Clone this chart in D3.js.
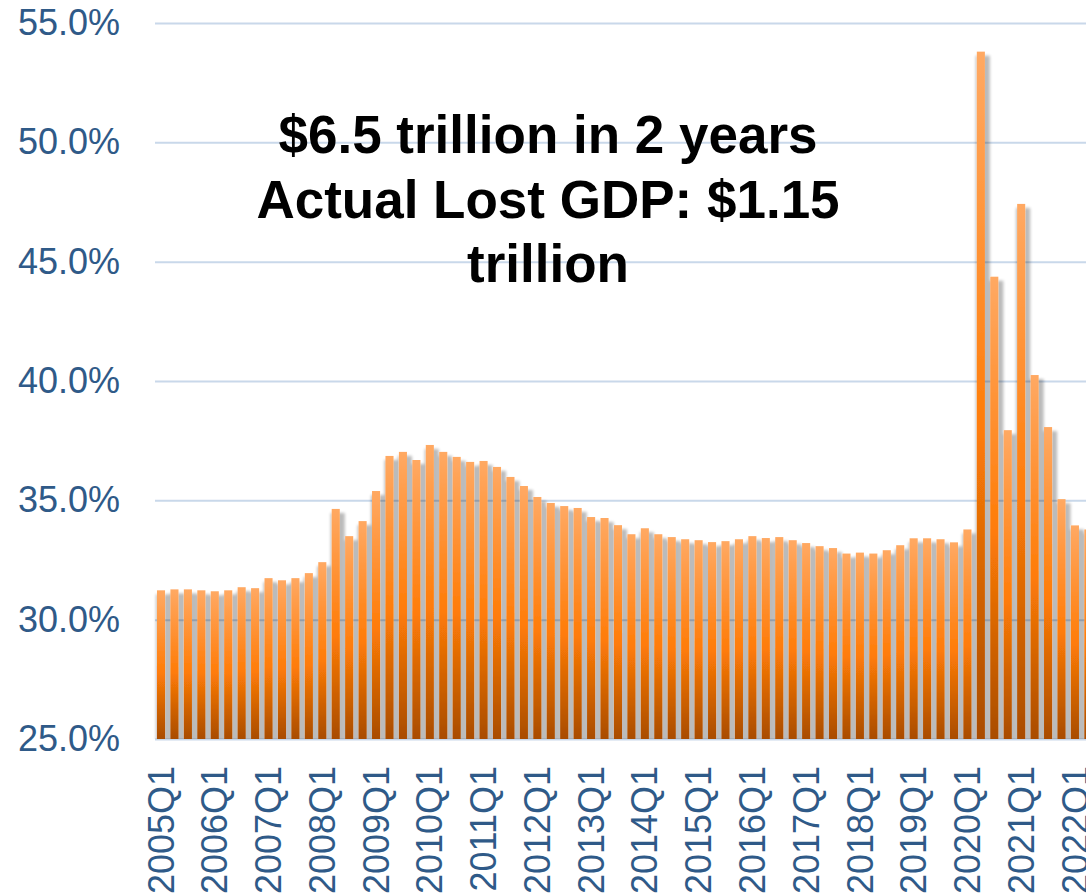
<!DOCTYPE html>
<html>
<head>
<meta charset="utf-8">
<script src="https://cdn.jsdelivr.net/npm/d3@7"></script>
<style>
  body { margin: 0; background: #fff; }
  svg { display: block; }
</style>
</head>
<body>
<div class="chart"></div>
<script>
var svgWidth = 1086;
var svgHeight = 893;

// quarter labels 2005Q1 .. 2022Q2 (last one is cut off at the right edge)
var years = d3.range(2005, 2023);
var quarters = [];
years.forEach(function(yr) {
  [1, 2, 3, 4].forEach(function(q) {
    if (yr < 2022 || q <= 2) quarters.push(yr + "Q" + q);
  });
});

// share of GDP, %
var shares = [
  31.23, 31.27, 31.27, 31.23,
  31.19, 31.23, 31.36, 31.32,
  31.74, 31.65, 31.74, 31.95,
  32.41, 34.64, 33.50, 34.13,
  35.39, 36.86, 37.03, 36.69,
  37.32, 37.03, 36.82, 36.61,
  36.65, 36.40, 35.98, 35.60,
  35.14, 34.89, 34.76, 34.68,
  34.30, 34.26, 33.96, 33.58,
  33.83, 33.58, 33.46, 33.37,
  33.33, 33.25, 33.29, 33.37,
  33.50, 33.42, 33.46, 33.33,
  33.21, 33.08, 33.00, 32.77,
  32.81, 32.77, 32.91, 33.12,
  33.41, 33.41, 33.37, 33.24,
  33.78, 53.80, 44.37, 37.94,
  47.42, 40.25, 38.07, 35.05,
  33.95, 33.78
];

var yTicks = [25, 30, 35, 40, 45, 50, 55];
var xTicks = quarters.filter(function(q) { return q.slice(-2) === "Q1"; });

var noteLines = ["$6.5 trillion in 2 years", "Actual Lost GDP: $1.15", "trillion"];

var data = quarters.map(function(q, i) { return { quarter: q, share: shares[i] }; });

var plotLeft = 155;
var plotTop = 23;
var plotBottom = 739;
var step = 13.44;

var svg = d3.select(".chart")
  .append("svg")
  .attr("width", svgWidth)
  .attr("height", svgHeight);

var defs = svg.append("defs");

var grad = defs.append("linearGradient")
  .attr("id", "barFill")
  .attr("x1", 0).attr("y1", 0)
  .attr("x2", 0).attr("y2", 1);
grad.append("stop").attr("offset", "0%").attr("stop-color", "#ffa963");
grad.append("stop").attr("offset", "55%").attr("stop-color", "#ff7c08");
grad.append("stop").attr("offset", "100%").attr("stop-color", "#a94c00");

// grey shadow under the whole bar group, wide enough to fill the gaps
var shadow = defs.append("filter")
  .attr("id", "barShadow")
  .attr("filterUnits", "userSpaceOnUse")
  .attr("x", 0).attr("y", 0)
  .attr("width", svgWidth).attr("height", svgHeight);
shadow.append("feMorphology")
  .attr("in", "SourceAlpha")
  .attr("operator", "dilate")
  .attr("radius", "3 0")
  .attr("result", "wide");
shadow.append("feOffset")
  .attr("in", "wide")
  .attr("dx", 1.5).attr("dy", 4)
  .attr("result", "moved");
shadow.append("feGaussianBlur")
  .attr("in", "moved")
  .attr("stdDeviation", 1.6)
  .attr("result", "soft");
shadow.append("feComponentTransfer")
  .attr("in", "soft")
  .attr("result", "faint")
  .append("feFuncA")
  .attr("type", "linear")
  .attr("slope", 0.27);
var merge = shadow.append("feMerge");
merge.append("feMergeNode").attr("in", "faint");
merge.append("feMergeNode").attr("in", "SourceGraphic");

// scales
var x = d3.scaleBand()
  .domain(quarters)
  .range([plotLeft - 0.7, plotLeft - 0.7 + step * quarters.length])
  .paddingInner(0.4)
  .paddingOuter(0.2);

var y = d3.scaleLinear()
  .domain([25, 55])
  .range([plotBottom, plotTop]);

// gridlines
svg.append("g")
  .attr("class", "grid")
  .attr("transform", `translate(${plotLeft}, 0)`)
  .call(d3.axisLeft(y).tickValues(yTicks).tickSize(-(svgWidth - plotLeft)).tickFormat(""))
  .call(g => g.select(".domain").remove())
  .call(g => g.selectAll("line")
    .attr("stroke", "#c9d8ea")
    .attr("stroke-width", 2));

// bars
var clip = defs.append("clipPath").attr("id", "plotClip");
clip.append("rect")
  .attr("x", 0).attr("y", 0)
  .attr("width", svgWidth).attr("height", plotBottom);

svg.append("g")
  .attr("clip-path", "url(#plotClip)")
  .append("g")
  .attr("filter", "url(#barShadow)")
  .selectAll("rect")
  .data(data)
  .enter()
  .append("rect")
  .attr("x", d => x(d.quarter))
  .attr("y", d => y(d.share))
  .attr("width", x.bandwidth())
  .attr("height", d => y(25) - y(d.share))
  .attr("fill", "url(#barFill)");

// y axis labels
svg.append("g")
  .attr("transform", `translate(${plotLeft}, 0)`)
  .call(d3.axisLeft(y).tickValues(yTicks).tickSize(0).tickPadding(35)
    .tickFormat(d => d.toFixed(1) + "%"))
  .call(g => g.select(".domain").remove())
  .call(g => g.selectAll("text")
    .attr("fill", "#2f5a88")
    .style("font-family", "'Liberation Sans', Arial, sans-serif")
    .style("font-size", "36px"));

// x axis labels
svg.append("g")
  .attr("transform", `translate(0, ${plotBottom})`)
  .call(d3.axisBottom(x).tickValues(xTicks).tickSize(0))
  .call(g => g.select(".domain").remove())
  .call(g => g.selectAll("text")
    .attr("transform", "rotate(-90)")
    .attr("x", -27)
    .attr("y", 0)
    .attr("dy", "0.35em")
    .style("text-anchor", "end")
    .attr("fill", "#2f5a88")
    .style("font-family", "'Liberation Sans', Arial, sans-serif")
    .style("font-size", "36px"));

// annotation
svg.append("text")
  .attr("x", 548)
  .attr("y", 153)
  .attr("text-anchor", "middle")
  .style("font-family", "'Liberation Sans', Arial, sans-serif")
  .style("font-size", "53px")
  .style("font-weight", "bold")
  .attr("fill", "#000")
  .selectAll("tspan")
  .data(noteLines)
  .enter()
  .append("tspan")
  .attr("x", 548)
  .attr("dy", (d, i) => i === 0 ? 0 : 64.5)
  .text(d => d);
</script>
</body>
</html>
